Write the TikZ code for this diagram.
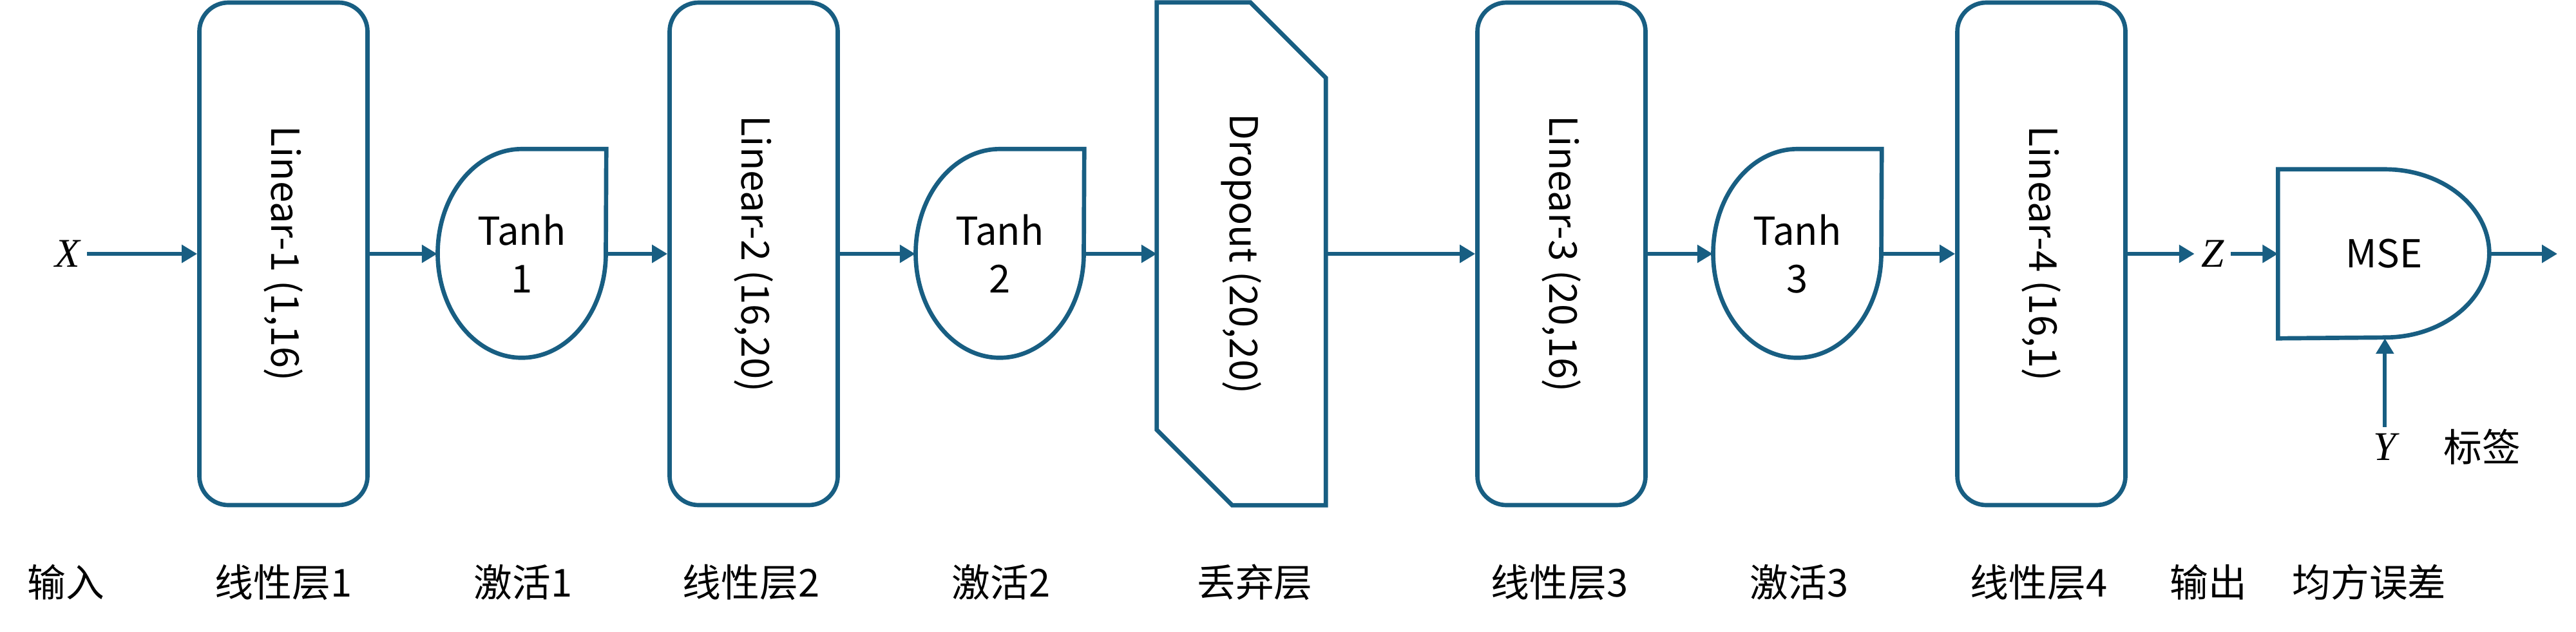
\documentclass[tikz,border=0pt]{standalone}
\usepackage{fontspec}
\setmainfont{Noto Sans CJK SC}
\newfontfamily\varfont{Liberation Serif}
\usetikzlibrary{arrows.meta}
\definecolor{netblue}{RGB}{24,94,130}
\tikzset{
  every node/.style={font=\fontsize{17}{21}\selectfont},
  linbox/.style={draw=netblue, line width=1.9pt, rounded corners=0.45cm, minimum width=2.61cm, minimum height=7.8cm, inner sep=0pt},
  actbox/.style={minimum width=2.61cm, minimum height=3.24cm, inner sep=0pt, align=center},
  dropbox/.style={minimum width=2.61cm, minimum height=7.79cm, inner sep=0pt},
  msebox/.style={minimum width=3.28cm, minimum height=2.61cm, inner sep=0pt},
  outline/.style={draw=netblue, line width=1.9pt, line join=miter},
  flow/.style={draw=netblue, line width=1.7pt, -{Triangle[length=0.24cm, width=0.27cm]}},
  vartext/.style={inner sep=0.1cm, font=\fontsize{18}{21}\varfont\itshape}
}

\begin{document}
\begin{tikzpicture}
  \useasboundingbox (0,0) rectangle (39.99,9.80);

  \node[vartext] (xin) at (1.05,5.86) {X};
  \node[linbox] (lin1) at (4.40,5.86) {\rotatebox{-90}{Linear-1 (1,16)}};
  \node[actbox] (act1) at (8.10,5.86) {Tanh\\1};
  \node[linbox] (lin2) at (11.70,5.86) {\rotatebox{-90}{Linear-2 (16,20)}};
  \node[actbox] (act2) at (15.52,5.86) {Tanh\\2};
  \node[dropbox] (drop) at (19.27,5.86) {\rotatebox{-90}{Dropout (20,20)}};
  \node[linbox] (lin3) at (24.24,5.86) {\rotatebox{-90}{Linear-3 (20,16)}};
  \node[actbox] (act3) at (27.90,5.86) {Tanh\\3};
  \node[linbox] (lin4) at (31.69,5.86) {\rotatebox{-90}{Linear-4 (16,1)}};
  \node[vartext] (zout) at (34.35,5.86) {Z};
  \node[msebox] (mse) at (37.01,5.86) {MSE};
  \coordinate (mjoin) at ([xshift=1.66cm]mse.south west);
  \coordinate (loss) at (39.70,5.86);
  \node[vartext] (ylab) at (mjoin |- 0,2.86) {Y};
  \node (tag) at (38.53,2.86) {标签};

  \foreach \n in {act1,act2,act3}
    \draw[outline] (\n.north east) -- (\n.north) arc[start angle=90, end angle=360, x radius=1.305cm, y radius=1.62cm] -- cycle;
  \draw[outline] (drop.north west) -- ([xshift=-1.17cm]drop.north east) -- ([yshift=-1.17cm]drop.north east)
    -- (drop.south east) -- ([xshift=1.17cm]drop.south west) -- ([yshift=1.17cm]drop.south west) -- cycle;
  \draw[outline] (mse.north west) -- ([xshift=1.66cm]mse.north west) arc[start angle=90, end angle=-90, x radius=1.62cm, y radius=1.305cm]
    -- (mse.south west) -- cycle;

  \draw[flow] (xin) -- (lin1);
  \draw[flow] (lin1) -- (act1);
  \draw[flow] (act1) -- (lin2);
  \draw[flow] (lin2) -- (act2);
  \draw[flow] (act2) -- (drop);
  \draw[flow] (drop) -- (lin3);
  \draw[flow] (lin3) -- (act3);
  \draw[flow] (act3) -- (lin4);
  \draw[flow] (lin4) -- (zout);
  \draw[flow] (zout) -- (mse);
  \draw[flow] (mse.east) -- (loss);
  \draw[flow] (ylab) -- (mjoin);

  \foreach \x/\t [count=\i] in {1.02/输入, 4.40/线性层1, 8.12/激活1, 11.66/线性层2, 15.54/激活2, 19.48/丢弃层,
      24.21/线性层3, 27.93/激活3, 31.65/线性层4, 34.28/输出, 36.78/均方误差}
    \node (cap\i) at (\x,0.76) {\t};
\end{tikzpicture}
\end{document}
